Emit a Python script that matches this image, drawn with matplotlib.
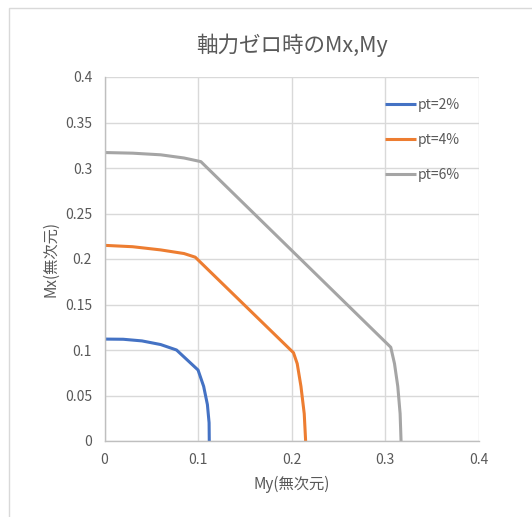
import numpy as np
import matplotlib.pyplot as plt
from matplotlib.patches import Rectangle

plt.rcParams['font.family'] = ['Noto Sans CJK JP', 'DejaVu Sans']

# 曲線データ (My, Mx) - 画像から読み取り
my_2 = [0.0, 0.02, 0.04, 0.06, 0.077, 0.100, 0.106, 0.110, 0.1118, 0.112]
mx_2 = [0.112, 0.1118, 0.110, 0.106, 0.100, 0.078, 0.060, 0.040, 0.020, 0.0]

my_4 = [0.0, 0.03, 0.06, 0.085, 0.097, 0.202, 0.206, 0.210, 0.2135, 0.215]
mx_4 = [0.215, 0.2135, 0.210, 0.206, 0.202, 0.097, 0.085, 0.060, 0.030, 0.0]

my_6 = [0.0, 0.03, 0.06, 0.085, 0.103, 0.306, 0.310, 0.3135, 0.316, 0.317]
mx_6 = [0.317, 0.3163, 0.3145, 0.311, 0.307, 0.103, 0.085, 0.060, 0.030, 0.0]

labels = ["pt=2%", "pt=4%", "pt=6%"]
colors = ["#4472C4", "#ED7D31", "#A5A5A5"]
ticks = [0, 0.1, 0.2, 0.3, 0.4]
yticks = [0, 0.05, 0.1, 0.15, 0.2, 0.25, 0.3, 0.35, 0.4]

W, H = 532, 517
fig = plt.figure(figsize=(W / 100, H / 100), dpi=100)

# グラフ枠
fig.patches.append(Rectangle((9 / W, -0.1), 1.2, 1 - 8 / H + 0.1, transform=fig.transFigure,
                             fill=False, edgecolor="#d9d9d9", linewidth=1))

ax = fig.add_axes([104.5 / W, 1 - 441 / H, (478.7 - 104.5) / W, (441 - 77) / H])

for x, y, lab, c in zip([my_2, my_4, my_6], [mx_2, mx_4, mx_6], labels, colors):
    ax.plot(x, y, color=c, linewidth=2.2, label=lab, solid_capstyle="butt")

ax.set_xlim(0, 0.4)
ax.set_ylim(0, 0.4)
ax.set_xticks(ticks)
ax.set_xticklabels(["0", "0.1", "0.2", "0.3", "0.4"])
ax.set_yticks(yticks)
ax.set_yticklabels(["0", "0.05", "0.1", "0.15", "0.2", "0.25", "0.3", "0.35", "0.4"])
ax.grid(True, color="#d9d9d9", linewidth=1)
ax.set_axisbelow(True)
for s in ["top", "right"]:
    ax.spines[s].set_visible(False)
for s in ["left", "bottom"]:
    ax.spines[s].set_color("#bfbfbf")
    ax.spines[s].set_linewidth(1)
ax.tick_params(length=0, labelsize=10, colors="#595959", pad=9)

ax.set_title("軸力ゼロ時のMx,My", fontsize=15.5, color="#595959", pad=18)
ax.set_xlabel("My(無次元)", fontsize=11, color="#595959", labelpad=6)
ax.set_ylabel("Mx(無次元)", fontsize=11, color="#595959", labelpad=4)

ax.legend(loc="upper left", bbox_to_anchor=(385 / W, 1 - 98 / H), bbox_transform=fig.transFigure,
          frameon=False, fontsize=10, handlelength=2.2, handletextpad=0.15,
          labelspacing=1.5, borderpad=0, borderaxespad=0, labelcolor="#595959")

fig.savefig("out.png", dpi=100)
